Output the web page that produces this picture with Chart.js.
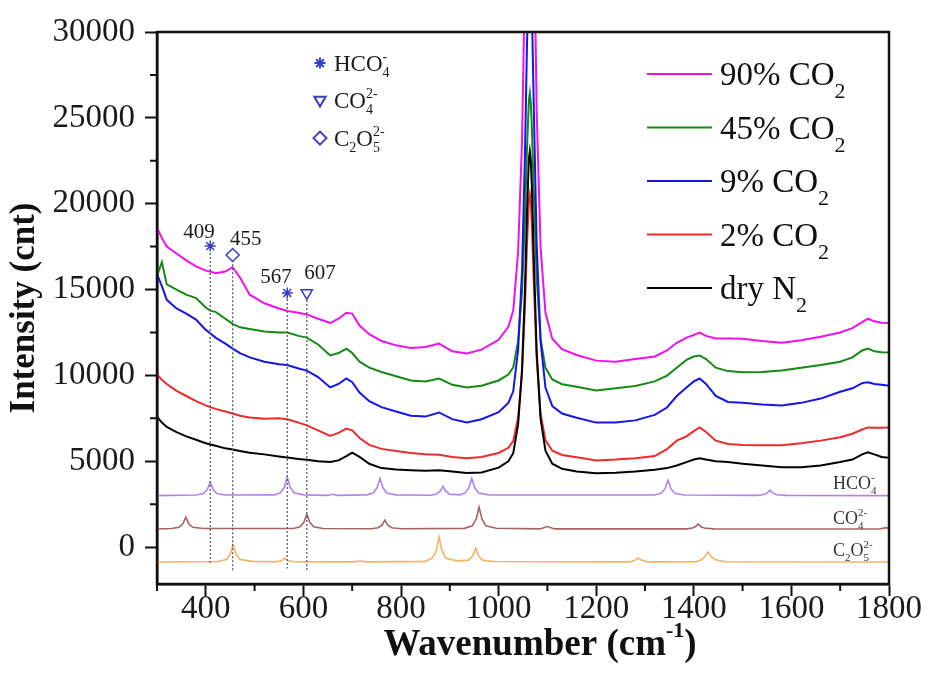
<!DOCTYPE html>
<html><head><meta charset="utf-8">
<script src="https://cdn.jsdelivr.net/npm/chart.js@4.4.1/dist/chart.umd.min.js"></script>
<style>html,body{margin:0;padding:0;background:#fff}#wrap{width:928px;height:678px;position:relative}</style>
</head><body><div id="wrap"><canvas id="c"></canvas></div>
<script>
// ---------- data ----------
const wavenumbers = [300,310,320,340,360,380,400,409,420,440,455,470,490,520,550,567,590,607,630,655,672,688,700,715,735,760,790,820,850,878,905,935,965,1000,1020,1030,1040,1048,1054,1058,1062,1064,1066,1068,1072,1078,1086,1096,1110,1130,1160,1200,1240,1280,1320,1345,1365,1385,1400,1412,1425,1445,1470,1500,1540,1580,1620,1660,1700,1725,1745,1757,1770,1785,1800];
const dryN2 = [7600,7250,7000,6700,6450,6250,6050,5980,5900,5750,5680,5600,5500,5400,5280,5220,5130,5080,5000,4950,5050,5300,5500,5250,4850,4600,4520,4480,4450,4470,4400,4320,4350,4630,5000,5470,7150,10330,15010,19310,22580,23050,22530,21130,17020,11410,7480,5610,4860,4560,4400,4300,4330,4400,4500,4600,4750,4950,5100,5170,5100,5000,4950,4850,4750,4650,4650,4750,4950,5100,5400,5520,5400,5250,5200];
const co2_2 = [10050,9750,9500,9100,8800,8500,8250,8150,8050,7900,7780,7650,7550,7480,7500,7450,7250,7090,6800,6480,6650,6900,6800,6350,5950,5720,5600,5480,5400,5380,5250,5170,5250,5480,5785,6170,7545,10150,13970,17490,20170,20550,20070,18920,15550,10960,7750,6220,5610,5365,5230,5050,5100,5180,5300,5700,6200,6450,6750,6970,6700,6200,6000,5950,5930,5930,6050,6200,6400,6600,6850,6970,6950,6950,6970];
const co2_9 = [15900,15200,14400,13900,13600,13250,12650,12450,12200,11850,11560,11300,11050,10800,10650,10600,10400,10280,9900,9300,9500,9820,9600,9000,8500,8150,7900,7650,7600,7840,7450,7260,7450,7855,8395,9070,11500,16090,22840,29050,33775,34450,33725,31700,25760,17660,11990,9290,8210,7780,7535,7250,7250,7380,7700,8130,8800,9300,9650,9820,9500,8800,8450,8400,8300,8250,8400,8650,9050,9250,9550,9600,9500,9450,9400];
const co2_45 = [15800,16600,15300,15000,14700,14500,13950,13770,13700,13300,13000,12800,12700,12550,12500,12500,12300,12200,11800,11160,11300,11560,11300,10800,10450,10200,9950,9700,9650,9820,9450,9300,9400,9705,10045,10470,12000,14890,19140,23050,26025,26450,25825,24550,20810,15710,12140,10440,9760,9488,9335,9120,9250,9380,9650,9990,10450,10900,11100,11160,10950,10450,10250,10180,10200,10280,10450,10600,10800,11050,11450,11560,11400,11350,11330];
const co2_90 = [18600,18000,17500,17100,16700,16350,16100,16050,15950,16050,16300,15700,14700,14200,13900,13750,13650,13550,13300,13050,13300,13650,13600,12900,12400,12000,11750,11600,11650,11850,11400,11270,11500,12070,12830,13780,17200,23660,33160,41900,48550,49500,48050,45200,36840,25440,17460,13660,12140,11530,11190,10860,10800,10950,11100,11450,11900,12200,12350,12490,12300,12150,12150,12140,12000,11900,12050,12250,12500,12750,13100,13300,13150,13070,13050];
const seriesLabels = ['90% CO_2','45% CO_2','9% CO_2','2% CO_2','dry N_2'];

// reference spectra
const hco4X = [300,380,395,403,409,415,423,440,540,553,561,567,573,581,600,650,660,670,730,743,751,757,763,771,790,860,872,880,886,892,900,920,931,939,945,951,959,980,1320,1333,1341,1347,1353,1361,1380,1530,1542,1550,1556,1562,1570,1590,1800];
const hco4Y = [3000,3030,3120,3350,3780,3350,3120,3030,3040,3160,3480,4070,3480,3160,3040,3010,3080,3010,3040,3150,3450,4000,3450,3150,3040,3020,3080,3240,3540,3240,3080,3040,3150,3450,4000,3450,3150,3040,3030,3135,3400,3900,3400,3135,3030,3010,3045,3140,3310,3140,3045,3010,3000];
const co4X = [300,330,345,353,359,365,373,395,580,593,601,607,613,621,640,740,753,761,767,773,781,800,930,946,954,960,966,974,995,1085,1100,1115,1385,1397,1403,1409,1415,1421,1440,1780,1795,1800];
const co4Y = [1050,1080,1150,1360,1740,1360,1150,1080,1080,1180,1440,1920,1440,1180,1080,1070,1130,1280,1570,1280,1130,1070,1090,1240,1620,2320,1620,1240,1100,1060,1200,1060,1060,1110,1180,1340,1180,1110,1060,1050,1130,1060];
const c2o5X = [300,425,442,450,456,462,470,495,545,556,562,568,580,700,716,730,850,864,872,878,884,892,915,939,947,953,959,967,990,1270,1280,1286,1292,1305,1405,1417,1423,1429,1435,1443,1465,1800];
const c2o5Y = [-870,-840,-720,-430,120,-430,-720,-830,-850,-780,-640,-780,-850,-860,-810,-860,-830,-650,-220,580,-220,-650,-800,-760,-500,-60,-500,-760,-840,-860,-760,-640,-760,-860,-850,-730,-540,-290,-540,-730,-850,-870];
const speciesLabels = ['HCO_4^-','CO_4^{2-}','C_2O_5^{2-}'];

// assigned bands
const bandPositions = [409,455,567,607];
const bandSpecies = [0,2,0,1];           // index into speciesLabels
const bandMarkerY = [17530,17010,14800,14800];
const bandLineTop = [17130,16480,14450,14390];
const bandLineBottom = [-1050,-1450,-1250,-1450];

// axes
const xTickValues = [400,600,800,1000,1200,1400,1600,1800];
const yTickValues = [0,5000,10000,15000,20000,25000,30000];
const xTickMinor = [300,500,700,900,1100,1300,1500,1700];
const yTickMinor = [2500,7500,12500,17500,22500,27500];

// ---------- layout / style (not data) ----------
const FONT = "'Liberation Serif','Times New Roman',Times,serif";
const seriesColors = ['#ee11ee','#148a14','#1414ee','#ee2a2a','#000000'];
const speciesColors = ['#b283f0','#a86262','#f4b262'];
const markerColor = '#3b3bc8';
const markerStyles = [{s:'star',r:0,rad:5.5},{s:'triangle',r:180,rad:6.5},{s:'rectRot',r:0,rad:6.5}];
const annot = {
  bandLabelX:[386,482,544,634], bandLabelY:[18000,17590,15380,15610],
  keyX:634, keyY:[28190,26040,23820],
  refLabelX:1685, refLabelY:[3380,1340,-520]
};

function toks(s){const out=[];let i=0,b='';
  while(i<s.length){const c=s[i];
    if(c==='_'||c==='^'){if(b){out.push({t:b,k:'n'});b='';}
      let t; if(s[i+1]==='{'){const j=s.indexOf('}',i+2);t=s.slice(i+2,j);i=j+1;} else {t=s[i+1];i+=2;}
      out.push({t,k:c==='_'?'sub':'sup'});
    } else {b+=c;i++;}
  }
  if(b)out.push({t:b,k:'n'});return out;}
function drawRich(ctx,s,x,y,o){
  const size=o.size,w=o.weight||'normal';
  const fN=`${w} ${size}px ${FONT}`, fS=`${w} ${Math.round(size*(o.scale||0.65))}px ${FONT}`;
  const sd=size*(o.subDy??0.3), ud=-size*(o.supDy??0.42);
  const segs=toks(s),items=[];let cx=0;
  for(let i=0;i<segs.length;i++){const g=segs[i];
    if(g.k==='n'){ctx.font=fN;items.push({t:g.t,f:fN,x:cx,dy:0});cx+=ctx.measureText(g.t).width;}
    else{ctx.font=fS;const wd=ctx.measureText(g.t).width;items.push({t:g.t,f:fS,x:cx,dy:g.k==='sub'?sd:ud});
      const n=segs[i+1];
      if(g.k==='sub'&&n&&n.k==='sup'){const w2=ctx.measureText(n.t).width;items.push({t:n.t,f:fS,x:cx,dy:ud});cx+=Math.max(wd,w2);i++;}
      else cx+=wd;}
  }
  const x0=o.align==='center'?x-cx/2:x;
  ctx.fillStyle=o.color||'#111';ctx.textAlign='left';ctx.textBaseline='alphabetic';
  items.forEach(it=>{ctx.font=it.f;ctx.fillText(it.t,x0+it.x,y+it.dy);});
}

const pts=(xs,ys)=>xs.map((v,i)=>({x:v,y:ys[i]}));
const measured=[co2_90,co2_45,co2_9,co2_2,dryN2];
const datasets=[];
[4,3,2,1,0].forEach((k,n)=>datasets.push({label:seriesLabels[k],data:pts(wavenumbers,measured[k]),borderColor:seriesColors[k],borderWidth:2,pointRadius:0,tension:0,order:n+1}));
[[hco4X,hco4Y],[co4X,co4Y],[c2o5X,c2o5Y]].forEach((d,k)=>datasets.push({label:speciesLabels[k],data:pts(d[0],d[1]),borderColor:speciesColors[k],borderWidth:1.6,pointRadius:0,tension:0,order:10+k}));
bandPositions.forEach((b,i)=>datasets.push({label:'band '+b,data:[{x:b,y:bandLineTop[i]},{x:b,y:bandLineBottom[i]}],borderColor:'#5a5a78',borderWidth:1.3,borderDash:[2,2],pointRadius:0,order:0}));
datasets.push({type:'scatter',label:'bands',data:pts(bandPositions,bandMarkerY),showLine:false,order:-1,
  pointStyle:c=>markerStyles[bandSpecies[c.dataIndex]].s,
  pointRotation:c=>markerStyles[bandSpecies[c.dataIndex]].r,
  pointRadius:c=>markerStyles[bandSpecies[c.dataIndex]].rad,
  borderColor:markerColor,backgroundColor:'rgba(0,0,0,0)',borderWidth:1.5});

const decor={id:'decor',afterDraw(chart){
  const {ctx,chartArea:a,scales:{x,y}}=chart;
  ctx.save();
  ctx.strokeStyle='#111';ctx.lineWidth=2.5;ctx.strokeRect(a.left,a.top,a.right-a.left,a.bottom-a.top);
  ctx.lineWidth=2;ctx.beginPath();
  xTickMinor.forEach(v=>{const p=x.getPixelForValue(v);ctx.moveTo(p,a.bottom);ctx.lineTo(p,a.bottom+7);});
  yTickMinor.forEach(v=>{const p=y.getPixelForValue(v);ctx.moveTo(a.left-7,p);ctx.lineTo(a.left,p);});
  ctx.stroke();
  seriesLabels.forEach((s,i)=>{const yy=a.top+42+i*53.5;
    ctx.strokeStyle=seriesColors[i];ctx.lineWidth=2;ctx.beginPath();ctx.moveTo(a.right-242,yy);ctx.lineTo(a.right-177,yy);ctx.stroke();
    drawRich(ctx,s,a.right-169,yy+11,{size:33,scale:0.66,subDy:0.4,color:'#111'});
  });
  speciesLabels.forEach((s,i)=>{const px=x.getPixelForValue(annot.keyX),py=y.getPixelForValue(annot.keyY[i]);
    const m=markerStyles[i];ctx.strokeStyle=markerColor;ctx.fillStyle='rgba(0,0,0,0)';
    Chart.helpers.drawPoint(ctx,{pointStyle:m.s,rotation:m.r,radius:m.rad,borderWidth:1.5},px,py);
    drawRich(ctx,s,px+14,py+8,{size:23,scale:0.62,subDy:0.25,supDy:0.45,color:'#1a1a1a'});
  });
  bandPositions.forEach((b,i)=>{drawRich(ctx,String(b),x.getPixelForValue(annot.bandLabelX[i]),y.getPixelForValue(annot.bandLabelY[i]),{size:21,align:'center',color:'#1a1a1a'});});
  speciesLabels.forEach((s,i)=>{drawRich(ctx,s,x.getPixelForValue(annot.refLabelX),y.getPixelForValue(annot.refLabelY[i]),{size:18,scale:0.62,subDy:0.25,supDy:0.45,color:'#333'});});
  drawRich(ctx,'Wavenumber (cm^{-1})',(a.left+a.right)/2+17,655,{size:37,weight:'bold',scale:0.6,supDy:0.5,align:'center',color:'#111'});
  ctx.restore();
}};

new Chart(document.getElementById('c'),{
  type:'line',
  data:{datasets},
  plugins:[decor],
  options:{
    responsive:true,maintainAspectRatio:false,animation:false,events:[],
    layout:{padding:{left:0,right:39,top:32,bottom:0}},
    plugins:{legend:{display:false},tooltip:{enabled:false}},
    scales:{
      x:{type:'linear',min:300,max:1800,
        afterFit:s=>{s.height=94;},
        afterBuildTicks:s=>{s.ticks=xTickValues.map(v=>({value:v}));},
        border:{display:true,width:2.5,color:'#111'},
        grid:{drawOnChartArea:false,drawTicks:true,tickLength:12,tickWidth:2,tickColor:'#111'},
        ticks:{maxRotation:0,autoSkip:false,padding:-6,color:'#1a1a1a',font:{family:FONT,size:33},callback:v=>String(v)}},
      y:{type:'linear',min:-2150,max:30000,
        afterFit:s=>{s.width=157;},
        afterBuildTicks:s=>{s.ticks=yTickValues.map(v=>({value:v}));},
        border:{display:true,width:2.5,color:'#111'},
        grid:{drawOnChartArea:false,drawTicks:true,tickLength:12,tickWidth:2,tickColor:'#111'},
        ticks:{autoSkip:false,padding:10,color:'#1a1a1a',font:{family:FONT,size:33},callback:v=>String(v)},
        title:{display:true,text:'Intensity (cnt)',color:'#111',font:{family:FONT,size:35,weight:'bold'},padding:{top:4,bottom:0}}}
    }
  }
});
</script></body></html>
